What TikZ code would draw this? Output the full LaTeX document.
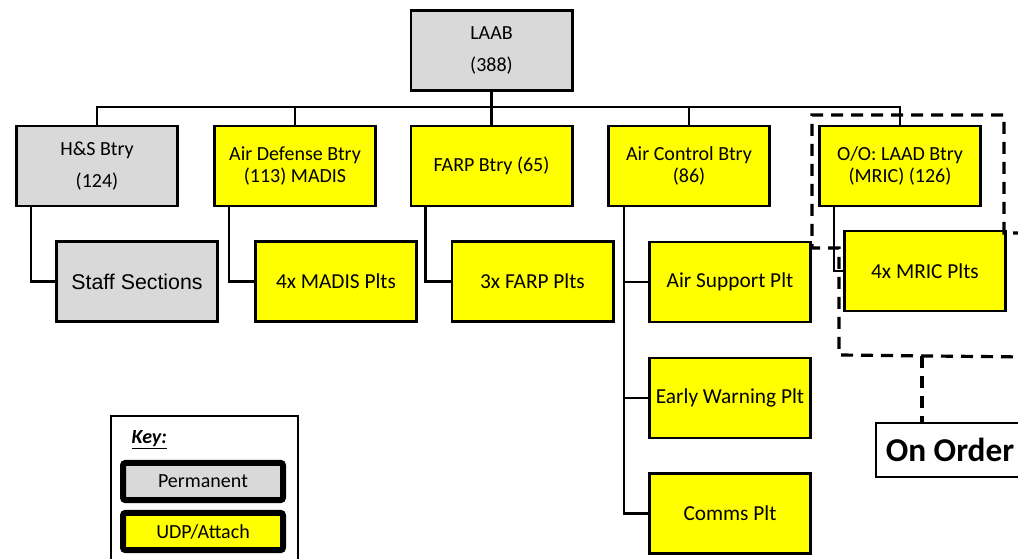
\documentclass[tikz,border=0pt]{standalone}
\usepackage{fontspec}
\setmainfont{Carlito}
\newfontfamily\arialfont{Liberation Sans}

\definecolor{permgray}{RGB}{217,217,217}
\definecolor{udpyellow}{RGB}{255,255,0}

\tikzset{
  unit/.style={draw, line width=2pt, minimum width=121pt, minimum height=60pt,
    align=center, inner sep=2pt, font=\fontsize{15}{16.5}\selectfont},
  perm/.style={unit, fill=permgray},
  udp/.style={unit, fill=udpyellow},
  plt/.style={udp, font=\fontsize{16}{18}\selectfont},
  link/.style={line width=1.8pt},
  ordered/.style={line width=2.4pt, dash pattern=on 9pt off 6pt},
  keybox/.style={draw, line width=4.5pt, rounded corners=2pt, minimum width=120pt,
    minimum height=28pt, font=\fontsize{15}{16.5}\selectfont}
}

\begin{document}
\begin{tikzpicture}[x=0.75pt,y=-0.75pt]
  \useasboundingbox (0,0) rectangle (1018,559);
  % battalion and batteries
  \node[perm] (laab) at (491.5,50.5) {LAAB\\[8pt](388)};
  \node[perm] (hs)   at (97,166)   {H\&S Btry\\[8pt](124)};
  \node[udp]  (adb)  at (295,166)  {Air Defense Btry\\(113) MADIS};
  \node[udp]  (farp) at (491.5,166) {FARP Btry (65)};
  \node[udp]  (acb)  at (689,166)  {Air Control Btry\\(86)};
  \node[udp]  (laad) at (900,166)  {O/O: LAAD Btry\\(MRIC) (126)};
  % platoons and sections
  \node[perm, font=\arialfont\fontsize{16}{18}\selectfont] (staff) at (137,281.5) {Staff Sections};
  \node[plt] (madis)  at (336,281.5) {4x MADIS Plts};
  \node[plt] (farpplt) at (532.5,281.5) {3x FARP Plts};
  \node[plt] (airsup) at (730,282)   {Air Support Plt};
  \node[plt] (ew)     at (730,398)   {Early Warning Plt};
  \node[plt] (comms)  at (730,513.5) {Comms Plt};
  \node[plt] (mric)   at (925,271)   {4x MRIC Plts};
  % bus under the battalion
  \coordinate (bus) at (491.5,107);
  \draw[link] (laab.south) -- (farp.north);
  \draw[link] (hs.north) -- (hs.north |- bus) -- (laad.north |- bus) -- (laad.north);
  \draw[link] (adb.north) -- (adb.north |- bus);
  \draw[link] (acb.north) -- (acb.north |- bus);
  % battery to platoon links
  \draw[link] (hs.south west) ++(16,0) |- (staff.west);
  \draw[link] (adb.south west) ++(16,0) |- (madis.west);
  \draw[link] (farp.south west) ++(16,0) |- (farpplt.west);
  \draw[link] (acb.south west) ++(17,0) coordinate (trunk) |- (comms.west);
  \draw[link] (airsup.west) -- (airsup.west -| trunk);
  \draw[link] (ew.west) -- (ew.west -| trunk);
  \draw[link] (laad.south west) ++(16,0) |- (mric.west);
  % on order outline
  \coordinate (d1) at (812,115);
  \coordinate (d2) at (1004,115);
  \coordinate (d3) at (1004,233);
  \coordinate (d4) at (1025,233);
  \coordinate (d5) at (812,248);
  \coordinate (d6) at (839,248);
  \coordinate (d7) at (839,355);
  \coordinate (d8) at (1025,357);
  \draw[ordered] (d4) -- (d3) -- (d2) -- (d1) -- (d5) -- (d6) -- (d7) -- (d8);
  \node[draw, line width=1.5pt, minimum width=111pt, minimum height=41pt,
    font=\bfseries\fontsize{25}{28}\selectfont] (onorder) at (950,450) {On Order};
  \coordinate (drop) at (922,356);
  \draw[ordered] (drop) -- (drop |- onorder.north);
  % key
  \draw[line width=0.8pt] (111,416) rectangle (298,600);
  \node[anchor=west, font=\fontsize{15}{16.5}\selectfont] (keytitle) at (127,440)
    {\underline{\textbf{\textit{Key:}}}};
  \node[keybox, fill=permgray] (keyperm) at (203,481.5) {Permanent};
  \node[keybox, fill=udpyellow] (keyudp) at (203,531.5) {UDP/Attach};
\end{tikzpicture}
\end{document}
